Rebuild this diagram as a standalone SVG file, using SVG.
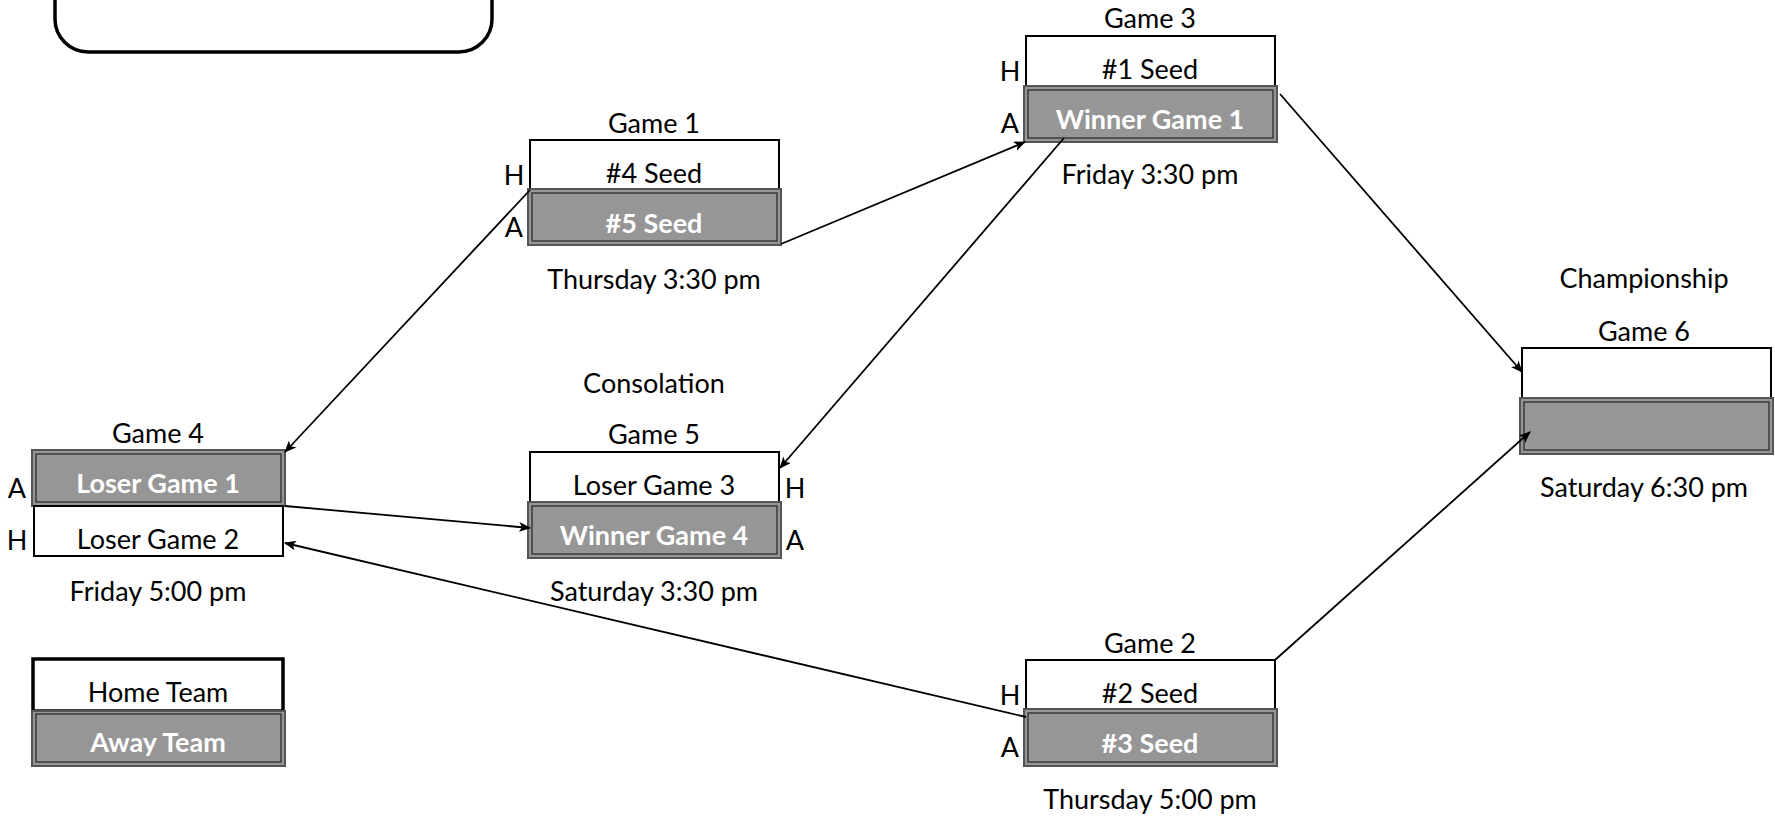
<svg xmlns="http://www.w3.org/2000/svg" width="1775" height="817" viewBox="0 0 1775 817">
<style>
text{font-family:Lato,"Liberation Sans",sans-serif;font-size:27px;fill:#000;text-anchor:middle}
.w{fill:#fff;stroke:#000;stroke-width:2}
.g{fill:#969696;stroke:#555;stroke-width:2}
.gi{fill:none;stroke:#3a3a3a;stroke-width:1.5}
.b{font-weight:bold;fill:#fff}
.c{fill:none;stroke:#000;stroke-width:1.8;marker-end:url(#ah)}
</style>
<defs>
<marker id="ah" viewBox="0 0 12 10" refX="11" refY="5" markerWidth="12" markerHeight="10" markerUnits="userSpaceOnUse" orient="auto">
<path d="M0,0 L12,5 L0,10 L3,5 Z" fill="#000"/>
</marker>
</defs>
<rect id="topbox" x="55" y="-60" width="437" height="112" rx="33" fill="#fff" stroke="#000" stroke-width="3.5"/>
<g id="game1">
<text x="654" y="133">Game 1</text>
<rect class="w" x="530" y="140" width="249" height="49"/>
<rect class="g" x="528" y="189" width="253" height="56"/>
<rect class="gi" x="532" y="193" width="245" height="48"/>
<text x="654" y="183">#4 Seed</text>
<text class="b" x="654" y="233">#5 Seed</text>
<text x="654" y="289">Thursday 3:30 pm</text>
<text x="514" y="185">H</text>
<text x="514" y="237">A</text>
</g>
<g id="game3">
<text x="1150" y="28">Game 3</text>
<rect class="w" x="1026" y="36" width="249" height="50"/>
<rect class="g" x="1024" y="86" width="253" height="56"/>
<rect class="gi" x="1028" y="90" width="245" height="48"/>
<text x="1150" y="79">#1 Seed</text>
<text class="b" x="1150" y="129">Winner Game 1</text>
<text x="1150" y="184">Friday 3:30 pm</text>
<text x="1010" y="81">H</text>
<text x="1010" y="133">A</text>
</g>
<g id="game4">
<text x="158" y="443">Game 4</text>
<rect class="g" x="32" y="450" width="253" height="56"/>
<rect class="gi" x="36" y="454" width="245" height="48"/>
<rect class="w" x="34" y="506" width="249" height="50"/>
<text class="b" x="158" y="493">Loser Game 1</text>
<text x="158" y="549">Loser Game 2</text>
<text x="158" y="601">Friday 5:00 pm</text>
<text x="17" y="498">A</text>
<text x="17" y="550">H</text>
</g>
<g id="game5">
<text x="654" y="393">Consolation</text>
<text x="654" y="444">Game 5</text>
<rect class="w" x="530" y="452" width="249" height="50"/>
<rect class="g" x="528" y="502" width="253" height="56"/>
<rect class="gi" x="532" y="506" width="245" height="48"/>
<text x="654" y="495">Loser Game 3</text>
<text class="b" x="654" y="545">Winner Game 4</text>
<text x="654" y="601">Saturday 3:30 pm</text>
<text x="795" y="498">H</text>
<text x="795" y="550">A</text>
</g>
<g id="game2">
<text x="1150" y="653">Game 2</text>
<rect class="w" x="1026" y="660" width="249" height="49"/>
<rect class="g" x="1024" y="709" width="253" height="57"/>
<rect class="gi" x="1028" y="713" width="245" height="49"/>
<text x="1150" y="703">#2 Seed</text>
<text class="b" x="1150" y="753">#3 Seed</text>
<text x="1150" y="809">Thursday 5:00 pm</text>
<text x="1010" y="705">H</text>
<text x="1010" y="757">A</text>
</g>
<g id="game6">
<text x="1644" y="288">Championship</text>
<text x="1644" y="341">Game 6</text>
<rect class="w" x="1522" y="348" width="249" height="50"/>
<rect class="g" x="1520" y="398" width="253" height="56"/>
<rect class="gi" x="1524" y="402" width="245" height="48"/>
<text x="1644" y="497">Saturday 6:30 pm</text>
</g>
<g id="legend">
<rect x="33" y="659" width="250" height="52" fill="#fff" stroke="#000" stroke-width="3.5"/>
<rect class="g" x="32" y="711" width="253" height="55"/>
<rect class="gi" x="36" y="714" width="245" height="48"/>
<text x="158" y="702">Home Team</text>
<text class="b" x="158" y="752">Away Team</text>
</g>
<g id="connectors">
<line class="c" x1="530" y1="190" x2="285" y2="452"/>
<line class="c" x1="781" y1="244" x2="1025" y2="142"/>
<line class="c" x1="1064" y1="138" x2="780" y2="468"/>
<line class="c" x1="1280" y1="94" x2="1522" y2="372"/>
<line class="c" x1="1275" y1="660" x2="1530" y2="432"/>
<line class="c" x1="1026" y1="717" x2="285" y2="543"/>
<line class="c" x1="285" y1="506" x2="530" y2="528"/>
</g>
</svg>
